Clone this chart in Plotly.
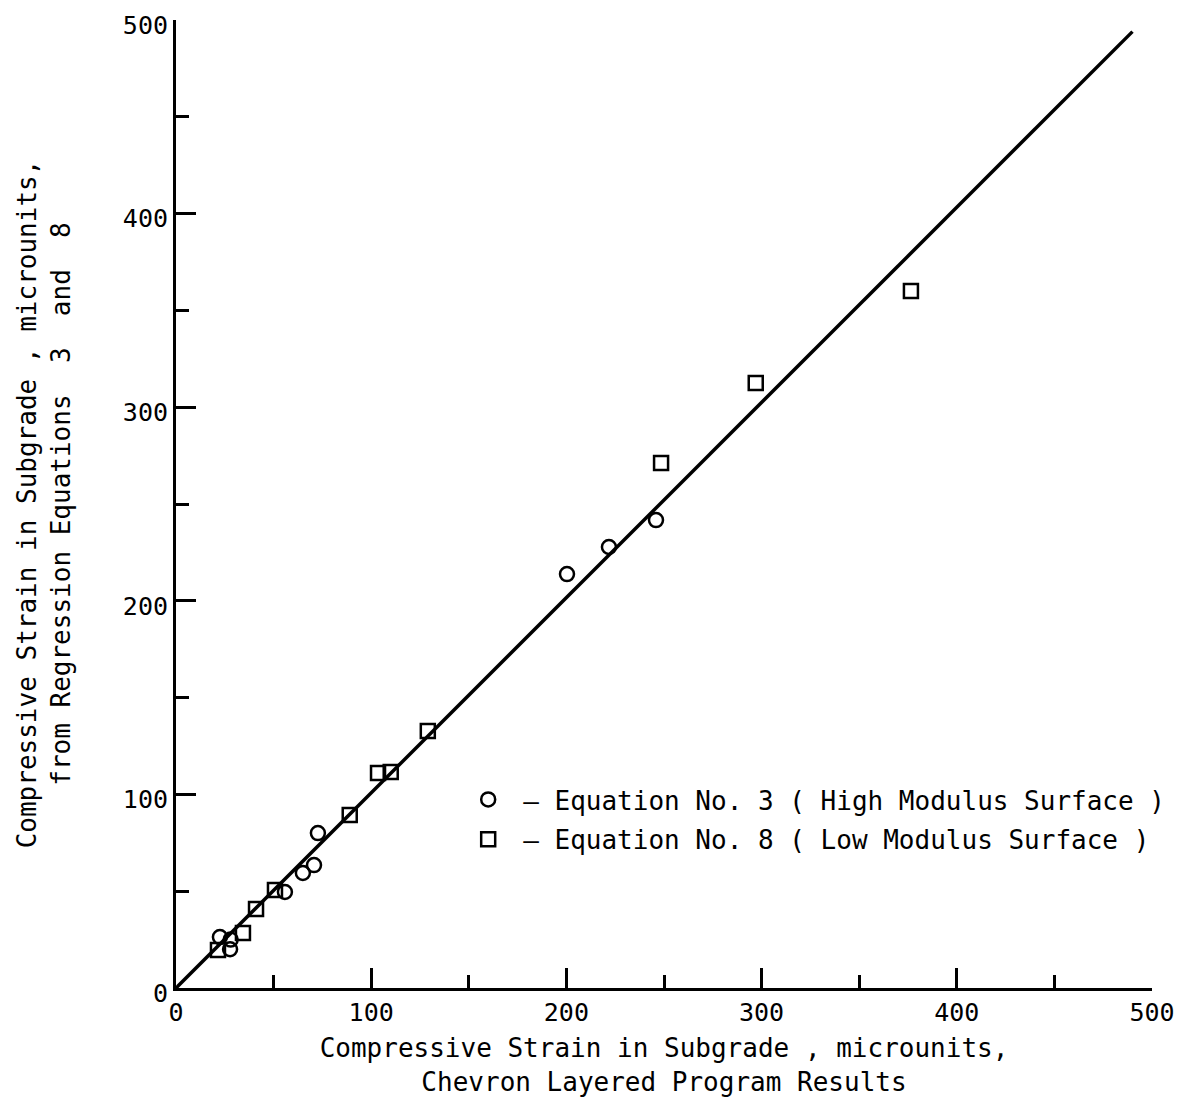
import plotly.graph_objects as go

# Equation No. 3 (High Modulus Surface) - circles
eq3_x = [22.5, 28, 27.7, 55.8, 65, 70.7, 72.7, 200.3, 221.8, 245.9]
eq3_y = [26.3, 25, 20, 49.6, 59.4, 63.5, 80, 213.8, 227.8, 241.7]

# Equation No. 8 (Low Modulus Surface) - squares
eq8_x = [21.5, 34.3, 41, 50.7, 89, 103.5, 110, 129, 248.5, 297, 376.5]
eq8_y = [19.6, 28.4, 40.8, 50.6, 89.4, 111, 111.6, 132.7, 271.2, 312.5, 360]

# fitted line
line_x = [0, 490]
line_y = [0, 494]

tick_vals = [0, 100, 200, 300, 400, 500]
tick_text = ["0", "100", "200", "300", "400", "500"]

FONT = "DejaVu Sans Mono"

fig = go.Figure()
fig.add_trace(go.Scatter(x=line_x, y=line_y, mode="lines",
                         line=dict(color="black", width=3.5),
                         showlegend=False, hoverinfo="skip"))
fig.add_trace(go.Scatter(x=eq3_x, y=eq3_y, mode="markers",
                         name="\u2013 Equation No. 3 ( High Modulus Surface )",
                         legendgroup="a",
                         marker=dict(symbol="circle-open", size=14, color="black",
                                     line=dict(width=2.5, color="black"))))
fig.add_trace(go.Scatter(x=eq8_x, y=eq8_y, mode="markers",
                         name="\u2013 Equation No. 8 ( Low Modulus Surface )",
                         legendgroup="b",
                         marker=dict(symbol="square-open", size=14, color="black",
                                     line=dict(width=2.5, color="black"))))

axis_common = dict(
    range=[0, 500], tickvals=tick_vals, ticktext=tick_text,
    ticks="inside", ticklen=20, tickwidth=2.5, tickcolor="black",
    minor=dict(dtick=50, ticks="inside", ticklen=13, tickwidth=2.5, tickcolor="black"),
    showline=True, linecolor="black", linewidth=3,
    showgrid=False, zeroline=False, mirror=False, automargin=False,
    ticklabeloverflow="allow",
    tickfont=dict(family=FONT, size=25, color="black"),
)

# page body has an 8px margin; figure sized/offset to compensate
fig.update_layout(
    width=1177, height=1090,
    margin=dict(l=168, r=33, t=12, b=110, autoexpand=False),
    paper_bgcolor="white", plot_bgcolor="white",
    font=dict(family=FONT, color="black"),
    xaxis=dict(**axis_common,
               title=dict(text="Compressive Strain in Subgrade , microunits,<br>Chevron Layered Program Results",
                          font=dict(family=FONT, size=26, color="black"), standoff=13)),
    yaxis=dict(**axis_common, ticklabelshift=5,
               title=dict(text="Compressive Strain in Subgrade , microunits,<br>from Regression Equations  3  and  8",
                          font=dict(family=FONT, size=26, color="black"), standoff=45)),
    legend=dict(x=0.284, y=0.219, xanchor="left", yanchor="top",
                bgcolor="rgba(0,0,0,0)", borderwidth=0,
                font=dict(family=FONT, size=26, color="black"),
                traceorder="grouped", tracegroupgap=3, itemwidth=60),
)

fig.write_html("out.html")
